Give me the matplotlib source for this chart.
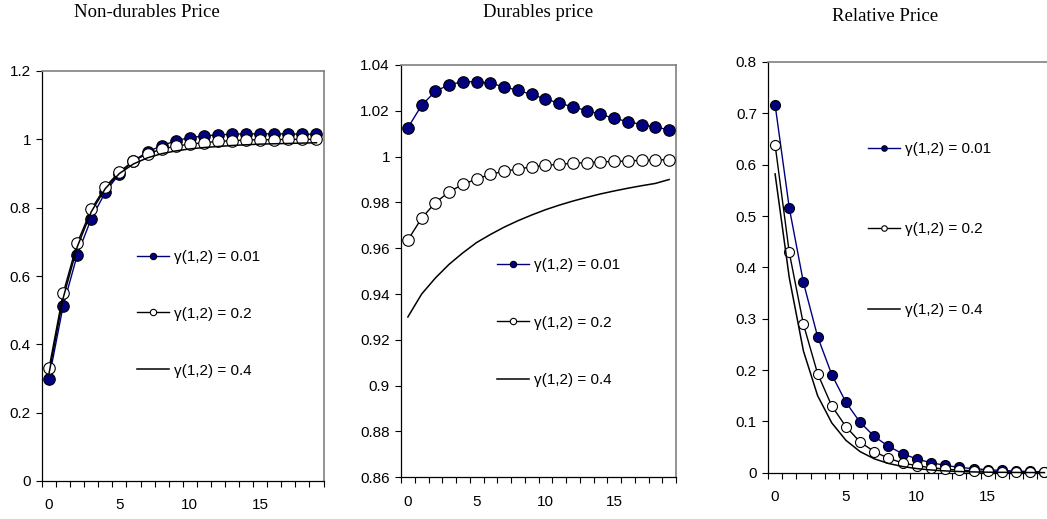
import matplotlib
matplotlib.use('Agg')
import matplotlib.pyplot as plt
from matplotlib.ticker import FuncFormatter

# Impulse responses, periods 0..19
periods = list(range(20))
titles = ['Non-durables Price', 'Durables price', 'Relative Price']
labels = ['γ(1,2) = 0.01', 'γ(1,2) = 0.2', 'γ(1,2) = 0.4']

nondur_001 = [0.300, 0.512, 0.661, 0.768, 0.845, 0.900, 0.937, 0.964, 0.981, 0.996,
              1.005, 1.010, 1.013, 1.015, 1.016, 1.016, 1.016, 1.016, 1.015, 1.015]
nondur_02 = [0.330, 0.549, 0.696, 0.795, 0.861, 0.905, 0.937, 0.958, 0.971, 0.980,
             0.986, 0.990, 0.994, 0.996, 0.998, 0.999, 0.999, 1.000, 1.000, 1.000]
nondur_04 = [0.315, 0.535, 0.685, 0.788, 0.856, 0.900, 0.928, 0.946, 0.958, 0.966,
             0.972, 0.976, 0.979, 0.982, 0.984, 0.986, 0.987, 0.988, 0.989, 0.990]

dur_001 = [1.0126, 1.0224, 1.0285, 1.0314, 1.0327, 1.0327, 1.0320, 1.0305, 1.0289, 1.0272,
           1.0251, 1.0234, 1.0217, 1.0201, 1.0185, 1.0167, 1.0153, 1.0140, 1.0128, 1.0118]
dur_02 = [0.9636, 0.9731, 0.9799, 0.9846, 0.9879, 0.9902, 0.9923, 0.9936, 0.9946, 0.9955,
          0.9962, 0.9966, 0.9971, 0.9974, 0.9977, 0.9979, 0.9981, 0.9984, 0.9985, 0.9987]
dur_04 = [0.9300, 0.9400, 0.9470, 0.9530, 0.9580, 0.9625, 0.9660, 0.9692, 0.9720, 0.9745,
          0.9768, 0.9788, 0.9806, 0.9822, 0.9837, 0.9850, 0.9862, 0.9873, 0.9883, 0.9900]

rel_001 = [0.717, 0.516, 0.3705, 0.265, 0.191, 0.137, 0.098, 0.0707, 0.0513, 0.037,
           0.0266, 0.0195, 0.0143, 0.0104, 0.0078, 0.0058, 0.0043, 0.0032, 0.0024, 0.0018]
rel_02 = [0.639, 0.429, 0.289, 0.193, 0.130, 0.0896, 0.0597, 0.041, 0.028, 0.019,
          0.0136, 0.0097, 0.0071, 0.0050, 0.0036, 0.0026, 0.0019, 0.0013, 0.0010, 0.0007]
rel_04 = [0.582, 0.380, 0.237, 0.150, 0.097, 0.063, 0.041, 0.027, 0.018, 0.012,
          0.008, 0.0053, 0.0035, 0.0023, 0.0015, 0.0010, 0.0007, 0.0005, 0.0003, 0.0002]

y_ranges = [(0, 1.2, 0.2), (0.86, 1.04, 0.02), (0, 0.8, 0.1)]

NAVY = '#000080'
plt.rcParams['font.family'] = ['Liberation Sans', 'DejaVu Sans']

fig = plt.figure(figsize=(10.47, 5.19), dpi=100)
W, H = 1047.0, 519.0


def px_axes(left, top, right, bottom):
    return fig.add_axes([left / W, 1 - bottom / H, (right - left) / W, (bottom - top) / H])


axes = [px_axes(42, 71, 323.5, 481),
        px_axes(401, 65, 676, 477.3),
        px_axes(768, 62, 1051.5, 472.7)]

series = [(nondur_001, nondur_02, nondur_04),
          (dur_001, dur_02, dur_04),
          (rel_001, rel_02, rel_04)]

# legend anchors (pixels) and row spacing
leg_pos = [(137, 250), (497, 258), (868, 142)]
leg_spacing = [2.8, 2.85, 4.35]
msizes = [8.3, 8.3, 7.2]
title_pos = [(147, 17), (538, 17.3), (885, 20.7)]

for i, ax in enumerate(axes):
    a, b, c = series[i]
    ms = msizes[i]
    ax.plot(periods, a, color=NAVY, lw=1.0, marker='o', ms=ms, mfc=NAVY, mec='black',
            mew=0.8, label=labels[0], clip_on=False, zorder=3)
    ax.plot(periods, b, color='black', lw=1.0, marker='o', ms=ms, mfc='white', mec='black',
            mew=0.8, label=labels[1], clip_on=False, zorder=4)
    ax.plot(periods, c, color='black', lw=1.1, label=labels[2], clip_on=False, zorder=5)

    lo, hi, step = y_ranges[i]
    n = int(round((hi - lo) / step))
    ax.set_ylim(lo, hi)
    ax.set_yticks([lo + k * step for k in range(n + 1)])
    ax.yaxis.set_major_formatter(FuncFormatter(lambda v, p: '{:g}'.format(round(v, 4))))
    ax.set_xlim(-0.5, 19.5)
    ax.set_xticks([0, 5, 10, 15])
    ax.set_xticks([k - 0.5 for k in range(21)], minor=True)
    ax.tick_params(axis='x', which='major', length=0, pad=12.5, labelsize=11)
    ax.tick_params(axis='x', which='minor', length=4, width=0.8, direction='out')
    ax.tick_params(axis='y', length=4, width=0.8, direction='out', pad=4, labelsize=11)

    for s in ['left', 'bottom']:
        ax.spines[s].set_color('black')
        ax.spines[s].set_linewidth(0.9)
    for s in ['top', 'right']:
        ax.spines[s].set_color('#808080')
        ax.spines[s].set_linewidth(1.2)

    lx, ly = leg_pos[i]
    ax.legend(loc='upper left', bbox_to_anchor=(lx / W, 1 - ly / H),
              bbox_transform=fig.transFigure, frameon=False, fontsize=11,
              borderpad=0, borderaxespad=0, handlelength=2.1, handletextpad=0.3,
              labelspacing=leg_spacing[i], markerscale=0.55)

    tx, ty = title_pos[i]
    fig.text(tx / W, 1 - ty / H, titles[i], ha='center', va='baseline',
             family='Liberation Serif', fontsize=13.5)

fig.savefig('out.png', dpi=100)
